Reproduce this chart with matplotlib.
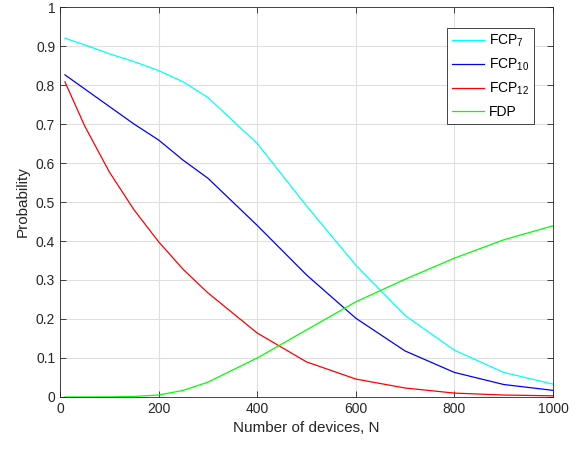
import matplotlib
matplotlib.use("Agg")
import matplotlib.pyplot as plt

plt.rcParams['font.family'] = ['Liberation Sans', 'DejaVu Sans']
plt.rcParams['mathtext.fontset'] = 'custom'
plt.rcParams['mathtext.rm'] = 'Liberation Sans'
plt.rcParams['mathtext.it'] = 'Liberation Sans'
plt.rcParams['mathtext.bf'] = 'Liberation Sans'

N = [10, 50, 100, 150, 200, 250, 300, 400, 500, 600, 700, 800, 900, 1000]
fcp7 = [0.920, 0.903, 0.880, 0.860, 0.837, 0.808, 0.768, 0.650, 0.490, 0.338, 0.209, 0.120, 0.063, 0.033]
fcp10 = [0.826, 0.790, 0.745, 0.700, 0.659, 0.607, 0.561, 0.440, 0.313, 0.202, 0.118, 0.063, 0.032, 0.017]
fcp12 = [0.808, 0.695, 0.577, 0.480, 0.398, 0.327, 0.267, 0.164, 0.090, 0.046, 0.023, 0.010, 0.005, 0.003]
fdp = [0.0, 0.0, 0.0003, 0.0015, 0.005, 0.017, 0.038, 0.100, 0.172, 0.244, 0.302, 0.356, 0.403, 0.439]

labels = [r'FCP$_\mathrm{7}$', r'FCP$_\mathrm{10}$', r'FCP$_\mathrm{12}$', 'FDP']
colors = ['#00ffff', '#0000ff', '#ff0000', '#00ff00']

fig = plt.figure(figsize=(5.85, 4.5), dpi=100)
ax = fig.add_axes([0.1026, 0.1178, 0.8427, 0.8666])

for y, lab, c in zip([fcp7, fcp10, fcp12, fdp], labels, colors):
    ax.plot(N, y, color=c, lw=0.9, label=lab)

ax.set_xlim(0, 1000)
ax.set_ylim(0, 1)
ax.set_xticks(range(0, 1001, 200))
ax.set_yticks([i / 10 for i in range(11)])
ax.set_yticklabels(['0', '0.1', '0.2', '0.3', '0.4', '0.5', '0.6', '0.7', '0.8', '0.9', '1'])
ax.grid(True, color='#dfdfdf', lw=0.8)
ax.set_axisbelow(True)
ax.tick_params(direction='in', top=True, right=True, labelsize=10, colors='#262626',
               length=4, width=0.6)
for s in ax.spines.values():
    s.set_color('#262626')
    s.set_linewidth(0.6)
ax.set_xlabel('Number of devices, N', fontsize=11, color='#262626')
ax.set_ylabel('Probability', fontsize=11, color='#262626')

leg = ax.legend(loc='upper right', bbox_to_anchor=(0.962, 0.947), borderaxespad=0,
                fontsize=10, fancybox=False, edgecolor='#262626', framealpha=1,
                handlelength=2.3, handletextpad=0.4, labelspacing=0.55, borderpad=0.35)
leg.get_frame().set_linewidth(0.6)

fig.savefig('out.png', dpi=100)
